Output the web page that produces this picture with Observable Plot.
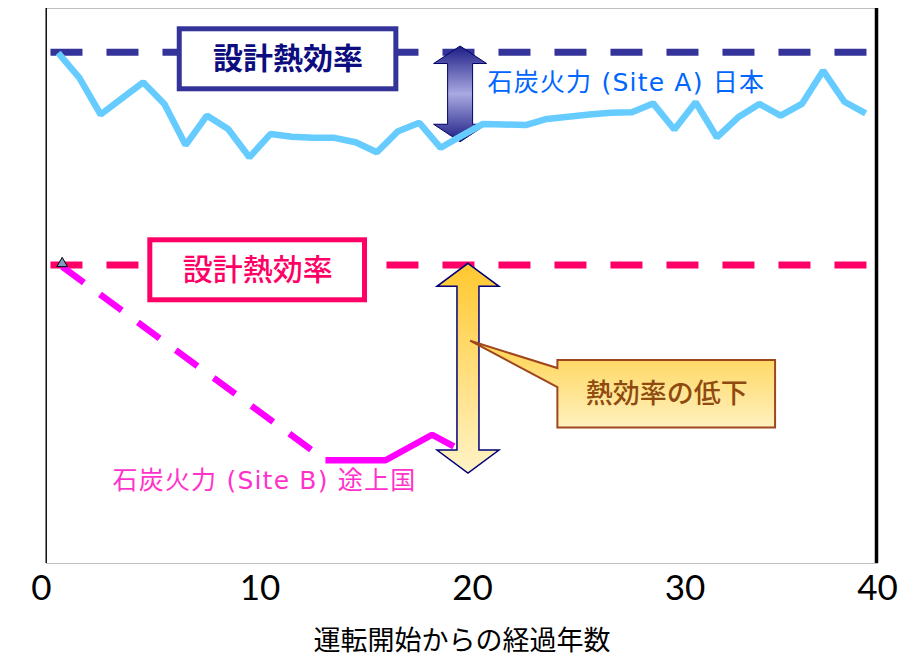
<!DOCTYPE html>
<html>
<head>
<meta charset="utf-8">
<script src="https://cdn.jsdelivr.net/npm/d3@7"></script>
<script src="https://cdn.jsdelivr.net/npm/@observablehq/plot@0.6"></script>
<style>
  html, body { margin: 0; padding: 0; background: #ffffff; }
  #chart svg { display: block; }
</style>
</head>
<body>
<div id="chart"></div>
<script>
// 運転開始からの経過年数と熱効率（枠の下端 = 0、上端 = 100 の相対値）
const yearsA = [0.5, 1.5, 2.5, 3.5, 4.5, 5.5, 6.5, 7.5, 8.5, 9.5,
                10.5, 11.5, 12.5, 13.5, 14.5, 15.5, 16.5, 17.5, 18.5, 19.5,
                20.5, 21.5, 22.5, 23.5, 24.5, 25.5, 26.5, 27.5, 28.5, 29.5,
                30.5, 31.5, 32.5, 33.5, 34.5, 35.5, 36.5, 37.5, 38.5];
const siteA = [92.0, 87.5, 80.9, 83.8, 86.7, 82.8, 75.4, 80.7, 78.3, 73.2,
               77.4, 76.9, 76.7, 76.7, 75.9, 74.1, 77.9, 79.4, 74.9, 77.1,
               79.2, 79.1, 79.0, 80.1, 80.5, 80.9, 81.2, 81.3, 82.9, 78.2,
               83.1, 76.8, 80.4, 82.8, 80.7, 82.8, 88.8, 83.2, 81.1];

const yearsB = [0.69, 13.08, 15.91, 18.10, 19.12];
const siteB = [53.5, 18.6, 18.6, 23.2, 21.1];

// 設計熱効率
const designSpan = [0.14, 38.57];
const designA = 92.1;
const designB = 53.8;

// 軸
const xTicks = [0, 10, 20, 30, 40];
const xTitle = "運転開始からの経過年数";

// 注記
const seriesLabels = ["石炭火力 (Site A) 日本", "石炭火力 (Site B) 途上国"];
const seriesLabelYears = [27.24, 10.21];
const seriesLabelValues = [86.6, 14.8];
const designLabel = "設計熱効率";
const designLabelYears = [11.32, 9.89];
const designLabelValues = [90.85, 52.83];
const gapArrowYears = [19.44, 19.81];
const gapArrowTops = [93.15, 54.0];
const gapArrowBottoms = [75.9, 16.2];
const gapLabel = "熱効率の低下";
const gapLabelYear = 29.14;
const gapLabelValue = 30.5;
const gapPointer = [19.91, 40.05];

const cjk = "'Noto Sans CJK JP', sans-serif";
const mixed = "'DejaVu Sans', 'Noto Sans CJK JP', sans-serif";
const tickFont = { tickSize: 0, tickPadding: 12, label: null, fontSize: 35, fontFamily: "Lato, sans-serif", fill: "#000" };

const svg = Plot.plot({
  width: 907,
  height: 659,
  marginTop: 8,
  marginBottom: 96,
  marginLeft: 46,
  marginRight: 30,
  x: { domain: [0, 40], range: [47, 897] },
  y: { domain: [0, 100], axis: null },
  style: { background: "#ffffff", fontFamily: "Lato, sans-serif", fontSize: "35px", overflow: "visible" },
  marks: [
    Plot.frame({ stroke: "#bdbdbd", strokeWidth: 1 }),
    // 設計熱効率（破線）
    Plot.line(designSpan, { x: d => d, y: () => designA, stroke: "#333399", strokeWidth: 7, strokeDasharray: "32,24", strokeLinecap: "butt" }),
    Plot.line(designSpan, { x: d => d, y: () => designB, stroke: "#ff0066", strokeWidth: 7, strokeDasharray: "32,24", strokeLinecap: "butt" }),
    // Site A
    Plot.line(siteA, { x: (d, i) => yearsA[i], y: d => d, stroke: "#66ccff", strokeWidth: 6.5, strokeLinejoin: "miter", strokeLinecap: "butt" }),
    // Site B
    Plot.line(siteB.slice(0, 2), { x: (d, i) => yearsB[i], y: d => d, stroke: "#ff00ff", strokeWidth: 6.5, strokeDasharray: "27,20", strokeLinecap: "butt" }),
    Plot.line(siteB.slice(1), { x: (d, i) => yearsB[i + 1], y: d => d, stroke: "#ff00ff", strokeWidth: 6.5, strokeLinejoin: "miter", strokeLinecap: "butt" }),
    Plot.dot(siteB.slice(0, 1), { x: () => yearsB[0], y: d => d, symbol: "triangle", r: 4, fill: "#7d9cc4", stroke: "#000", strokeWidth: 1, dy: -3 }),
    // ラベル
    Plot.text([designLabel], { x: () => designLabelYears[0], y: () => designLabelValues[0], fill: "#0d0d80", fontSize: 30, fontWeight: 700, fontFamily: cjk }),
    Plot.text([designLabel], { x: () => designLabelYears[1], y: () => designLabelValues[1], fill: "#ff0066", fontSize: 30, fontWeight: 500, fontFamily: cjk }),
    Plot.text([seriesLabels[0]], { x: () => seriesLabelYears[0], y: () => seriesLabelValues[0], fill: "#0066ff", fontSize: 25, fontFamily: mixed }),
    Plot.text([seriesLabels[1]], { x: () => seriesLabelYears[1], y: () => seriesLabelValues[1], fill: "#ff33cc", fontSize: 25, fontFamily: mixed }),
    Plot.text([gapLabel], { x: () => gapLabelYear, y: () => gapLabelValue, fill: "#8f4a0f", fontSize: 27, fontWeight: 500, fontFamily: cjk }),
    Plot.text([xTitle], { frameAnchor: "bottom", lineAnchor: "middle", dy: 78, fill: "#000", fontSize: 27, fontFamily: cjk }),
    // x 軸目盛
    Plot.axisX([10, 20, 30], tickFont),
    Plot.axisX([0], { ...tickFont, dx: -6 }),
    Plot.axisX([40], { ...tickFont, dx: -20 })
  ]
});

const xs = svg.scale("x"), ys = svg.scale("y");
const X = v => xs.apply(v), Y = v => ys.apply(v);
const ns = "http://www.w3.org/2000/svg";
const root = d3.select(svg);

// 系列ラベルの字間
root.selectAll("text").filter(function () {
  return seriesLabels.includes(this.textContent);
}).attr("letter-spacing", "1.2px");

// グラデーション
const defs = root.insert("defs", ":first-child");
function gradient(id, stops) {
  const g = defs.append("linearGradient").attr("id", id).attr("x1", 0).attr("y1", 0).attr("x2", 0).attr("y2", 1);
  stops.forEach(([o, c]) => g.append("stop").attr("offset", o).attr("stop-color", c));
}
gradient("gap-a", [[0, "#1d1d86"], [0.5, "#a9a9e2"], [1, "#1d1d86"]]);
gradient("gap-b", [[0, "#ffc82e"], [1, "#fff3c6"]]);
gradient("callout", [[0, "#ffd24d"], [1, "#fff1bf"]]);

function doubleArrow(cx, top, bot, headW, headH, shaftW) {
  const hw = headW / 2, sw = shaftW / 2;
  return `M${cx},${top}L${cx + hw},${top + headH}L${cx + sw},${top + headH}L${cx + sw},${bot - headH}` +
         `L${cx + hw},${bot - headH}L${cx},${bot}L${cx - hw},${bot - headH}L${cx - sw},${bot - headH}` +
         `L${cx - sw},${top + headH}L${cx - hw},${top + headH}Z`;
}

const lineGroups = svg.querySelectorAll(':scope > g[aria-label="line"]');
const below = document.createElementNS(ns, "g");
svg.insertBefore(below, lineGroups[2]);
const above = document.createElementNS(ns, "g");
svg.insertBefore(above, lineGroups[4].nextSibling);

// 枠の左右
const fl = 46, fr = 907 - 30, ft = 8, fb = 659 - 96;
const lower = d3.select(below);
lower.append("line").attr("x1", fl + 0.2).attr("x2", fl + 0.2).attr("y1", ft).attr("y2", fb)
  .attr("stroke", "#000").attr("stroke-width", 1.4);
lower.append("line").attr("x1", fr - 0.5).attr("x2", fr - 0.5).attr("y1", ft).attr("y2", fb)
  .attr("stroke", "#000").attr("stroke-width", 3.5);

// 設計熱効率の枠
[["#333399", 216.6, 60], ["#ff0066", 214.7, 60]].forEach(([color, w, h], i) => {
  const cx = X(designLabelYears[i]), cy = Y(designLabelValues[i]);
  lower.append("rect").attr("x", cx - w / 2).attr("y", cy - h / 2).attr("width", w).attr("height", h)
    .attr("fill", "#ffffff").attr("stroke", color).attr("stroke-width", 5);
});

// Site A の差（上側の矢印）
lower.append("path")
  .attr("d", doubleArrow(X(gapArrowYears[0]), Y(gapArrowTops[0]), Y(gapArrowBottoms[0]), 53, 17.5, 25))
  .attr("fill", "url(#gap-a)").attr("stroke", "#000066").attr("stroke-width", 1);

const upper = d3.select(above);
// Site B の差（下側の矢印）
upper.append("path")
  .attr("d", doubleArrow(X(gapArrowYears[1]), Y(gapArrowTops[1]), Y(gapArrowBottoms[1]), 62, 23, 22))
  .attr("fill", "url(#gap-b)").attr("stroke", "#00007a").attr("stroke-width", 1.5);

// 吹き出し
{
  const cx = X(gapLabelYear), cy = Y(gapLabelValue);
  const w = 217.7, h = 67.3;
  const l = cx - w / 2, r = cx + w / 2, t = cy - h / 2, b = cy + h / 2;
  const px = X(gapPointer[0]), py = Y(gapPointer[1]);
  upper.append("path")
    .attr("d", `M${l},${t}L${r},${t}L${r},${b}L${l},${b}L${l},${t + 27}L${px},${py}L${l},${t + 8}Z`)
    .attr("fill", "url(#callout)").attr("stroke", "#a0461e").attr("stroke-width", 2).attr("stroke-linejoin", "miter");
}

document.getElementById("chart").appendChild(svg);
</script>
</body>
</html>
